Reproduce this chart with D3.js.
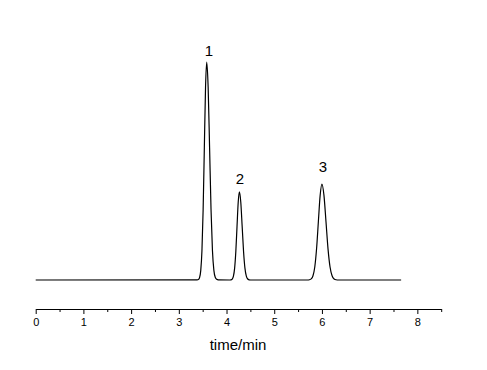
<!DOCTYPE html>
<html><head><meta charset="utf-8">
<script src="https://cdn.jsdelivr.net/npm/d3@7"></script>
<style>body{margin:0;background:#fff;}svg{display:block;}text{font-family:"Liberation Sans",Arial,sans-serif;fill:#000;}</style>
</head><body><svg id="c" width="487" height="370"></svg>
<script>
// chromatogram samples (time in min, signal in relative units)
const times = [0, 3.385,3.41,3.435,3.46,3.485,3.51,3.535,3.56,3.585,3.615,3.645,3.675,3.705,3.735,3.765,3.795,3.825,
  4.07,4.095,4.12,4.145,4.17,4.195,4.22,4.245,4.27,4.299,4.328,4.357,4.386,4.415,4.444,4.473,4.502,
  5.7,5.7375,5.775,5.8125,5.85,5.8875,5.925,5.9625,6.0,6.0425,6.085,6.1275,6.17,6.2125,6.255,6.2975,6.34, 7.66];
const signal = [0, 0.03,0.2,1.1,4.4,13.5,32.5,60.7,88.3,100,88.3,60.7,32.5,13.5,4.4,1.1,0.3,0.05,
  0.01,0.09,0.45,1.77,5.47,13.1,24.5,35.7,40.4,35.7,24.5,13.1,5.47,1.77,0.45,0.09,0.01,
  0.01,0.1,0.49,1.93,5.95,14.3,26.7,38.8,44,38.8,26.7,14.3,5.95,1.93,0.49,0.1,0.01, 0];
const peakLabels = ["1","2","3"];
const labelTimes = [3.63, 4.28, 6.02];
const labelSignal = [102.8, 44.0, 49.5];
const majorTicks = [0,1,2,3,4,5,6,7,8];
const minorTicks = [0.5,1.5,2.5,3.5,4.5,5.5,6.5,7.5,8.5];
const xLabel = "time/min";

const svg = d3.select("#c");
const x = d3.scaleLinear().domain([0, 8.5]).range([35.7, 441.2]);
const y = d3.scaleLinear().domain([0, 100]).range([280, 62]);
const axisY = 309;

const pts = times.map((t,i)=>[t, signal[i]]);
svg.append("path").datum(pts)
  .attr("fill","none").attr("stroke","#000").attr("stroke-width",1.2)
  .attr("d", d3.line().x(d=>x(d[0])).y(d=>y(d[1])).curve(d3.curveMonotoneX));

const gx = svg.append("g").attr("transform",`translate(0,${axisY})`);
gx.call(d3.axisBottom(x).tickValues(majorTicks).tickSize(5).tickSizeOuter(0).tickPadding(4).tickFormat(d3.format("d")));
gx.select(".domain").attr("stroke","#000");
gx.selectAll(".tick line").attr("stroke","#000");
gx.selectAll(".tick text").attr("font-size","11px").attr("font-family","Liberation Sans, Arial, sans-serif");
const gm = svg.append("g").attr("transform",`translate(0,${axisY})`);
gm.call(d3.axisBottom(x).tickValues(minorTicks).tickSize(3).tickSizeOuter(0).tickFormat(""));
gm.select(".domain").remove();
gm.selectAll(".tick line").attr("stroke","#000");

svg.append("text").attr("x", 238).attr("y", 350).attr("text-anchor","middle")
  .attr("font-size","15px").text(xLabel);

svg.selectAll(".plabel").data(peakLabels).enter().append("text")
  .attr("class","plabel").attr("text-anchor","middle").attr("font-size","15px")
  .attr("x",(d,i)=>x(labelTimes[i])).attr("y",(d,i)=>y(labelSignal[i])).text(d=>d);
</script></body></html>
